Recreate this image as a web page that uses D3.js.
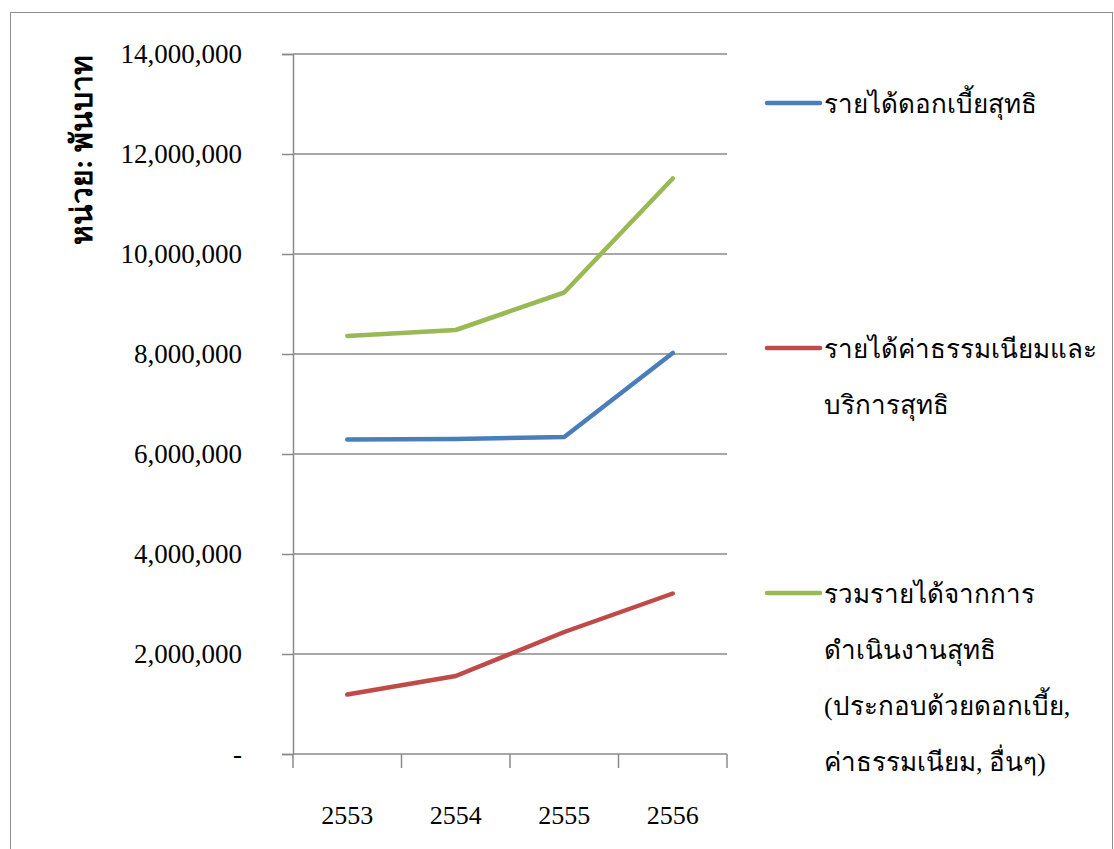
<!DOCTYPE html>
<html>
    <head>
        <meta charset="utf-8"/>
        <script src="https://cdnjs.cloudflare.com/ajax/libs/d3/7.8.5/d3.min.js"></script>
        <style>
            body { margin: 0; background: #fff; }
            svg text { font-family: "Liberation Serif", "Times New Roman", serif; fill: #000; }
        </style>
    </head>
    <body>
        <div id="chart"></div>
        <script type="text/javascript">
            // data (thousand baht)
            var years = ["2553", "2554", "2555", "2556"];
            var interest = [6290000, 6300000, 6340000, 8020000];
            var fees = [1190000, 1560000, 2440000, 3210000];
            var total = [8360000, 8480000, 9230000, 11510000];
            var yTicks = [0, 2000000, 4000000, 6000000, 8000000, 10000000, 12000000, 14000000];
            var seriesNames = [
                ["รายได้ดอกเบี้ยสุทธิ"],
                ["รายได้ค่าธรรมเนียมและ", "บริการสุทธิ"],
                ["รวมรายได้จากการ", "ดำเนินงานสุทธิ", "(ประกอบด้วยดอกเบี้ย,", "ค่าธรรมเนียม, อื่นๆ)"]
            ];
            var colors = ["#4a7ebb", "#be4b48", "#98b954"];
            var yTitle = "หน่วย: พันบาท";

            var W = 1114, H = 849;
            var svg = d3.select("#chart").append("svg")
                .attr("width", W).attr("height", H);

            // outer frame
            svg.append("rect")
                .attr("x", 10.5).attr("y", 12.5)
                .attr("width", 1102).attr("height", 850)
                .attr("fill", "none").attr("stroke", "#8c8c8c").attr("stroke-width", 1);

            var x = d3.scaleBand().domain(years).range([293, 727]);
            var y = d3.scaleLinear().domain([0, 14000000]).range([754, 54]);

            // gridlines
            svg.append("g").selectAll("line")
                .data(yTicks.slice(1))
                .enter().append("line")
                .attr("x1", 293).attr("x2", 727)
                .attr("y1", function(d) { return y(d); })
                .attr("y2", function(d) { return y(d); })
                .attr("stroke", "#8a8a8a").attr("stroke-width", 1.5);

            // y axis
            var yAxis = d3.axisLeft(y).tickValues(yTicks).tickSize(11).tickPadding(40)
                .tickFormat(function(d) { return d === 0 ? "-" : d3.format(",")(d); });
            var gy = svg.append("g").attr("transform", "translate(293,0)").call(yAxis);
            gy.attr("font-family", null).attr("font-size", null);
            gy.select(".domain").attr("stroke", "#8a8a8a").attr("stroke-width", 1.5);
            gy.selectAll(".tick line").attr("stroke", "#8a8a8a").attr("stroke-width", 1.5);
            gy.selectAll(".tick text")
                .attr("font-size", 27).attr("fill", "#000");

            // x axis with ticks on band edges
            var gx = svg.append("g").attr("transform", "translate(0,754)");
            gx.append("line").attr("x1", 293).attr("x2", 727)
                .attr("stroke", "#8a8a8a").attr("stroke-width", 1.5);
            var edges = years.map(function(d) { return x(d); }).concat([x.range()[1]]);
            gx.selectAll("line.edge").data(edges).enter().append("line")
                .attr("class", "edge")
                .attr("x1", function(d) { return d; }).attr("x2", function(d) { return d; })
                .attr("y1", 0).attr("y2", 14)
                .attr("stroke", "#8a8a8a").attr("stroke-width", 1.5);
            gx.selectAll("text").data(years).enter().append("text")
                .attr("x", function(d) { return x(d) + x.bandwidth() / 2; })
                .attr("y", 70)
                .attr("text-anchor", "middle")
                .attr("font-size", 26)
                .text(function(d) { return d; });

            // y title
            svg.append("text")
                .attr("transform", "translate(92,150) rotate(-90)")
                .attr("text-anchor", "middle")
                .attr("font-size", 30).attr("font-weight", "bold")
                .text(yTitle);

            // lines
            var line = d3.line()
                .x(function(d, i) { return x(years[i]) + x.bandwidth() / 2; })
                .y(function(d) { return y(d); });
            [interest, fees, total].forEach(function(s, i) {
                svg.append("path").datum(s)
                    .attr("d", line)
                    .attr("fill", "none")
                    .attr("stroke", colors[i])
                    .attr("stroke-width", 4.5)
                    .attr("stroke-linecap", "round")
                    .attr("stroke-linejoin", "round");
            });

            // legend
            var legendY = [103, 348, 593];
            var lineH = 56;
            seriesNames.forEach(function(lines, i) {
                var g = svg.append("g").attr("transform", "translate(0," + legendY[i] + ")");
                g.append("line").attr("x1", 767).attr("x2", 820)
                    .attr("y1", 0).attr("y2", 0)
                    .attr("stroke", colors[i]).attr("stroke-width", 4.5)
                    .attr("stroke-linecap", "round");
                lines.forEach(function(t, j) {
                    g.append("text")
                        .attr("x", 824).attr("y", j * lineH + 10)
                        .attr("font-size", 26)
                        .text(t);
                });
            });
        </script>
    </body>
</html>
